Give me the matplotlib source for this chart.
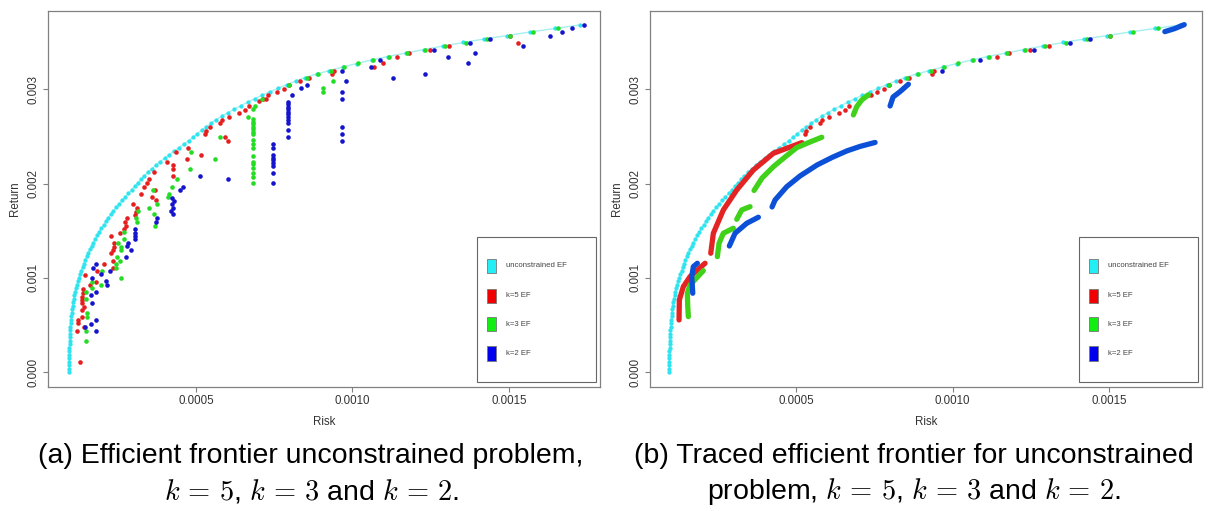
import numpy as np
import matplotlib

matplotlib.use("Agg")
import matplotlib.pyplot as plt
from matplotlib.patches import Rectangle

plt.rcParams["font.family"] = ["Liberation Sans", "DejaVu Sans"]
plt.rcParams["mathtext.fontset"] = "cm"

# Values. Risk in units of 1e-4, return in units of 1e-3.
RISK_UNIT = 1e-4
RET_UNIT = 1e-3

# unconstrained efficient frontier (same in both panels)
ef_risk = [0.942, 0.945, 0.947, 0.950, 0.952, 0.955, 0.957, 0.960, 0.963, 0.967,
           0.970, 0.973, 0.982, 0.992, 1.002, 1.012, 1.022, 1.034, 1.047, 1.059,
           1.072, 1.091, 1.118, 1.146, 1.174, 1.201, 1.233, 1.269, 1.305, 1.341,
           1.376, 1.421, 1.466, 1.512, 1.558, 1.605, 1.664, 1.723, 1.783, 1.842,
           1.906, 1.978, 2.050, 2.122, 2.195, 2.276, 2.362, 2.448, 2.545, 2.645,
           2.744, 2.843, 2.943, 3.042, 3.142, 3.241, 3.346, 3.466, 3.587, 3.708,
           3.848, 3.996, 4.145, 4.295, 4.454, 4.613, 4.764, 4.904, 5.044, 5.183,
           5.333, 5.487, 5.642, 5.832, 6.022, 6.222, 6.432, 6.652, 6.882, 7.122,
           7.372, 7.632, 7.902, 8.182, 8.482, 8.856, 9.259, 9.687, 10.134, 10.613,
           11.125, 11.700, 12.275, 12.901, 13.540, 14.211, 14.946, 15.671, 16.470, 17.268]
ef_ret = [0.000, 0.037, 0.074, 0.112, 0.149, 0.186, 0.223, 0.260, 0.298, 0.335,
          0.372, 0.409, 0.446, 0.484, 0.521, 0.558, 0.595, 0.632, 0.670, 0.707,
          0.744, 0.781, 0.818, 0.856, 0.893, 0.930, 0.967, 1.004, 1.042, 1.079,
          1.116, 1.153, 1.190, 1.228, 1.265, 1.302, 1.339, 1.376, 1.414, 1.451,
          1.488, 1.525, 1.562, 1.600, 1.637, 1.674, 1.711, 1.748, 1.786, 1.823,
          1.860, 1.897, 1.934, 1.972, 2.009, 2.046, 2.083, 2.120, 2.158, 2.195,
          2.232, 2.269, 2.306, 2.344, 2.381, 2.418, 2.455, 2.492, 2.530, 2.567,
          2.604, 2.641, 2.678, 2.716, 2.753, 2.790, 2.827, 2.864, 2.902, 2.939,
          2.976, 3.013, 3.050, 3.088, 3.125, 3.162, 3.199, 3.236, 3.274, 3.311,
          3.348, 3.385, 3.422, 3.460, 3.497, 3.534, 3.571, 3.608, 3.646, 3.683]

# panel (a): k=5 points
k5_risk = [1.304, 1.208, 1.220, 1.240, 1.367, 1.422, 1.367, 1.412, 1.367, 1.358,
           1.367, 1.399, 1.399, 1.463, 1.613, 1.805, 1.847, 2.061, 2.275, 2.358,
           2.380, 2.380, 2.358, 2.358,
           2.284, 2.572, 2.709, 2.764, 2.741, 2.786, 2.997, 3.105, 3.083, 3.051,
           3.243, 3.339, 3.425, 3.489, 3.668, 3.585, 3.690, 3.712, 4.064, 4.275,
           4.265, 4.275, 4.351, 4.703, 4.754, 5.169, 5.278, 5.329, 5.438, 5.776,
           5.831, 6.045, 5.936, 6.022, 6.364, 6.556, 6.703, 7.003, 7.131, 7.227,
           7.310, 7.578, 7.812, 7.971,
           8.323, 8.610, 9.335, 9.419, 10.687, 10.984, 11.412, 11.815, 12.476,
           13.093, 15.297, 15.032]
k5_ret = [0.106, 0.441, 0.555, 0.520, 0.590, 0.484, 0.661, 0.696, 0.732, 0.767,
          0.802, 0.838, 0.887, 1.032, 0.926, 0.961, 1.074, 1.145, 1.262, 1.297,
          1.368, 1.332, 1.180, 1.109,
          1.449, 1.480, 1.520, 1.555, 1.594, 1.633, 1.785, 1.745, 1.703, 1.668,
          1.891, 1.965, 2.011, 2.047, 2.121, 1.862, 1.933, 1.827, 2.227, 2.195,
          2.153, 2.082, 2.339, 2.265, 2.379, 2.301, 2.527, 2.562, 2.601, 2.640,
          2.675, 2.710, 2.492, 2.456, 2.747, 2.785, 2.824, 2.880, 2.898, 2.898,
          2.937, 2.972, 3.007, 3.047,
          3.089, 3.124, 3.160, 3.195, 3.241, 3.277, 3.347, 3.386, 3.421,
          3.460, 3.495, 3.569]

# panel (a): k=3 points
k3_risk = [1.476, 1.476, 1.518, 1.518, 1.486, 1.486, 1.668, 1.677, 1.955, 2.006,
           2.444, 2.454, 2.466, 2.604, 2.572, 2.604, 2.604, 2.508,
           2.709, 2.709, 3.083, 3.125, 3.147, 3.498, 3.617, 3.668, 3.690, 3.744,
           4.115, 4.137, 4.224, 4.403, 4.799, 4.840, 5.597, 5.776, 6.652, 6.895,
           7.109, 7.981,
           6.821, 6.821, 6.821, 6.821, 6.821, 6.821, 6.821, 6.821, 6.821, 6.821,
           6.821, 6.821, 6.821, 6.821, 6.821, 6.821, 6.821, 6.821,
           8.556, 8.907, 9.067, 9.067, 9.387, 9.304, 9.738, 10.185, 10.665, 11.176,
           11.751, 12.326, 12.955, 13.617, 14.288, 15.032, 15.776, 16.575]
k3_ret = [0.329, 0.441, 0.590, 0.626, 0.774, 0.852, 0.891, 0.961, 0.929, 1.074,
          1.109, 1.148, 1.226, 1.000, 1.183, 1.297, 1.332, 1.374,
          1.485, 1.414, 1.633, 1.591, 1.710, 1.745, 1.930, 1.676, 1.555, 1.785,
          1.856, 1.891, 1.968, 2.047, 2.156, 2.336, 2.265, 2.492, 2.710, 2.824,
          2.898, 3.047,
          2.789, 2.683, 2.657, 2.633, 2.604, 2.580, 2.551, 2.527, 2.463, 2.419,
          2.374, 2.297, 2.233, 2.209, 2.163, 2.110, 2.074, 2.007,
          3.124, 3.160, 3.012, 2.976, 3.089, 3.195, 3.241, 3.277, 3.312, 3.347,
          3.386, 3.421, 3.460, 3.495, 3.531, 3.569, 3.609, 3.648]

# panel (a): k=2 points
k2_risk = [1.444, 1.645, 1.815, 1.815, 1.668, 1.645, 1.796, 1.668, 1.719, 1.796,
           1.955, 2.125, 2.147, 2.262, 2.764, 2.827, 2.805, 2.914,
           3.051, 3.051, 3.051, 3.051, 3.744, 3.722, 4.224, 4.297, 4.224, 4.256,
           4.201, 4.265, 4.489, 4.594, 5.118, 6.022,
           7.450, 7.450, 7.450, 7.450, 7.450, 7.450, 7.450, 7.450, 7.450,
           7.939, 7.939, 7.939, 7.939, 7.939, 7.939, 7.939, 7.939, 7.939, 7.939,
           7.939, 8.058,
           8.345, 8.537, 9.655, 9.783, 9.655, 9.655, 9.655, 9.655, 9.655, 10.581,
           10.879, 11.304, 12.316, 12.604, 13.061, 13.754, 13.914, 13.681, 14.393,
           15.457, 16.310, 16.703, 17.003, 17.387]
k2_ret = [0.480, 0.515, 0.555, 0.441, 0.738, 0.817, 0.852, 0.997, 1.109, 1.148,
          1.039, 0.968, 0.926, 1.074, 1.226, 1.374, 1.339, 1.297,
          1.520, 1.480, 1.449, 1.414, 1.633, 1.591, 1.852, 1.817, 1.782, 1.745,
          1.710, 1.676, 1.933, 1.968, 2.082, 2.047,
          2.418, 2.376, 2.304, 2.273, 2.246, 2.220, 2.188, 2.117, 2.007,
          2.870, 2.842, 2.817, 2.789, 2.762, 2.736, 2.710, 2.679, 2.641, 2.569,
          2.492, 2.941,
          3.012, 3.047, 3.195, 3.089, 2.976, 2.901, 2.604, 2.530, 2.456, 3.241,
          3.312, 3.124, 3.160, 3.421, 3.347, 3.495, 3.386, 3.277, 3.531,
          3.460, 3.569, 3.609, 3.648, 3.686]

# panel (b): points kept as single dots
k5_dot_risk = [5.278, 5.329, 5.438, 5.776, 5.831, 6.045, 6.364, 6.556, 6.703, 7.310,
               7.400, 7.578, 7.812, 7.971, 8.323, 8.610, 9.335, 9.419, 11.412, 11.815,
               12.476, 13.093, 15.032]
k5_dot_ret = [2.527, 2.562, 2.601, 2.640, 2.675, 2.710, 2.747, 2.785, 2.824, 2.937,
              2.941, 2.972, 3.007, 3.047, 3.089, 3.124, 3.160, 3.195, 3.347, 3.386,
              3.421, 3.460, 3.569]
k3_dot_risk = [7.981, 8.556, 8.907, 9.304, 9.738, 10.185, 10.665, 11.176, 11.751,
               12.326, 12.955, 13.617, 14.288, 15.032, 15.776, 16.575]
k3_dot_ret = [3.047, 3.124, 3.160, 3.195, 3.241, 3.277, 3.312, 3.347, 3.386,
              3.421, 3.460, 3.495, 3.531, 3.569, 3.609, 3.648]
k2_dot_risk = [9.655, 10.879, 12.604, 13.754, 14.393]
k2_dot_ret = [3.195, 3.312, 3.421, 3.495, 3.531]

# panel (b): traced frontier pieces
k5_trace_risk = [[1.262, 1.272, 1.399, 1.613, 2.093],
                 [2.275, 2.358, 2.677, 3.105, 3.636, 4.275, 5.182]]
k5_trace_ret = [[0.555, 0.767, 0.908, 1.014, 1.156],
                [1.262, 1.474, 1.721, 1.933, 2.145, 2.322, 2.435]]
k3_trace_risk = [[1.559, 1.540, 1.527, 1.613, 2.038],
                 [2.486, 2.540, 2.677, 2.997],
                 [3.105, 3.265, 3.530],
                 [3.658, 3.914, 4.275, 4.649, 5.022, 5.447, 5.821],
                 [6.831, 6.939, 7.099, 7.310]]
k3_trace_ret = [[0.590, 0.696, 0.838, 0.926, 1.077],
                [1.226, 1.368, 1.474, 1.527],
                [1.622, 1.721, 1.756],
                [1.928, 2.060, 2.180, 2.283, 2.382, 2.442, 2.492],
                [2.729, 2.817, 2.888, 2.941]]
k2_trace_risk = [[1.700, 1.668, 1.719, 1.847],
                 [2.869, 3.051, 3.425, 3.796],
                 [4.233, 4.329, 4.703, 5.128, 5.671, 6.150, 6.620, 7.045, 7.524],
                 [8.003, 8.099, 8.323, 8.588],
                 [16.78, 17.10, 17.40]]
k2_trace_ret = [[0.838, 1.014, 1.120, 1.156],
                [1.339, 1.474, 1.580, 1.644],
                [1.753, 1.827, 1.968, 2.082, 2.198, 2.278, 2.347, 2.395, 2.437],
                [2.824, 2.919, 2.976, 3.054],
                [3.612, 3.645, 3.686]]

legend_labels = ["unconstrained EF", "k=5 EF", "k=3 EF", "k=2 EF"]
x_ticks = [0.0005, 0.0010, 0.0015]
x_tick_labels = ["0.0005", "0.0010", "0.0015"]
y_ticks = [0.000, 0.001, 0.002, 0.003]
y_tick_labels = ["0.000", "0.001", "0.002", "0.003"]

CYAN, CYAN_LINE = "#2fe3ef", "#a6eff0"
RED, GREEN, BLUE = "#e51f1f", "#25dc25", "#1414cc"
RED_T, GREEN_T, BLUE_T = "#e42424", "#3fd219", "#0c50d8"
legend_colors = ["#22eef5", "#f00000", "#11ee11", "#0000ee"]
FRAME = "#808080"


def _xy(risk, ret):
    return np.asarray(risk) * RISK_UNIT, np.asarray(ret) * RET_UNIT


def _dots(ax, risk, ret, color, ms=3.3):
    x, y = _xy(risk, ret)
    ax.plot(x, y, "o", color=color, ms=ms, mew=0, zorder=3)


def _setup(ax, xlim):
    ax.set_xlim(*xlim)
    ax.set_ylim(-0.000156, 0.003831)
    ax.set_xticks(x_ticks)
    ax.set_xticklabels(x_tick_labels)
    ax.set_yticks(y_ticks)
    ax.set_yticklabels(y_tick_labels, rotation=90, va="center")
    ax.tick_params(direction="out", length=3.6, width=0.8, color=FRAME,
                   labelsize=8.3, labelcolor="#333333", pad=2.5)
    for s in ax.spines.values():
        s.set_color(FRAME)
        s.set_linewidth(0.9)
    ax.set_xlabel("Risk", fontsize=8.3, color="#333333", labelpad=6)
    ax.set_ylabel("Return", fontsize=8.3, color="#333333", labelpad=5)


def _legend(ax):
    ax.add_patch(Rectangle((0.777, 0.012), 0.215, 0.387, transform=ax.transAxes,
                           facecolor="white", edgecolor="#666666", lw=0.8, zorder=5))
    rows = [0.322, 0.242, 0.167, 0.089]
    for yc, col, lab in zip(rows, legend_colors, legend_labels):
        ax.add_patch(Rectangle((0.795, yc - 0.019), 0.016, 0.038, transform=ax.transAxes,
                               facecolor=col, edgecolor="#777777", lw=0.6, zorder=6))
        ax.text(0.829, yc, lab, transform=ax.transAxes, fontsize=5.6,
                color="#444444", va="center", ha="left", zorder=6)


fig = plt.figure(figsize=(12.08, 5.11), dpi=100)
ax_a = fig.add_axes([0.0397, 0.2427, 0.4574, 0.7358])
ax_b = fig.add_axes([0.5381, 0.2427, 0.4570, 0.7358])

ex, ey = _xy(ef_risk, ef_ret)

# (a) scatter of all points
ax_a.plot(ex, ey, "-", color=CYAN_LINE, lw=1.0, zorder=2)
ax_a.plot(ex, ey, "o", color=CYAN, ms=3.1, mew=0, zorder=2)
_dots(ax_a, k5_risk, k5_ret, RED)
_dots(ax_a, k3_risk, k3_ret, GREEN)
_dots(ax_a, k2_risk, k2_ret, BLUE)
_setup(ax_a, (0.0000272, 0.0017923))
_legend(ax_a)

# (b) traced frontiers
ax_b.plot(ex, ey, "-", color=CYAN_LINE, lw=1.0, zorder=2)
ax_b.plot(ex, ey, "o", color=CYAN, ms=3.1, mew=0, zorder=2)
_dots(ax_b, k5_dot_risk, k5_dot_ret, RED)
_dots(ax_b, k3_dot_risk, k3_dot_ret, GREEN)
_dots(ax_b, k2_dot_risk, k2_dot_ret, BLUE)
for traces, col in [((k5_trace_risk, k5_trace_ret), RED_T),
                    ((k3_trace_risk, k3_trace_ret), GREEN_T),
                    ((k2_trace_risk, k2_trace_ret), BLUE_T)]:
    for r, t in zip(*traces):
        x, y = _xy(r, t)
        ax_b.plot(x, y, "-", color=col, lw=3.8, solid_capstyle="round",
                  solid_joinstyle="round", zorder=4)
_setup(ax_b, (0.0000335, 0.001797))
_legend(ax_b)

cap_kw = dict(fontsize=20.5, ha="center", va="center", color="black")
fig.text(310.5 / 1208, 1 - 456 / 511, "(a) Efficient frontier unconstrained problem,", **cap_kw)
fig.text(312 / 1208, 1 - 491 / 511, r"$k\,=\,5$, $k\,=\,3$ and $k\,=\,2$.", **cap_kw)
fig.text(913.5 / 1208, 1 - 456 / 511, "(b) Traced efficient frontier for unconstrained", **cap_kw)
fig.text(913.5 / 1208, 1 - 491 / 511, r"problem, $k\,=\,5$, $k\,=\,3$ and $k\,=\,2$.", **cap_kw)

fig.savefig("out.png", dpi=100)
